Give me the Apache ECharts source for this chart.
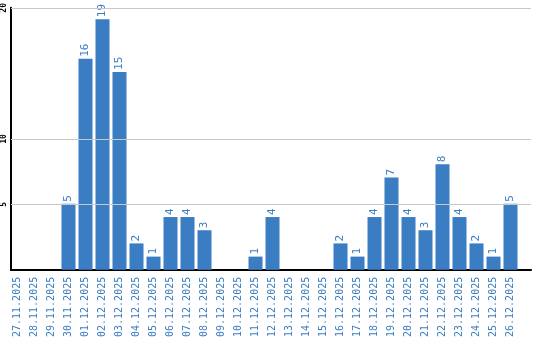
<!DOCTYPE html>
<html>
<head>
<meta charset="utf-8">
<script src="https://cdn.jsdelivr.net/npm/echarts@6/dist/echarts.min.js"></script>
<style>html,body{margin:0;padding:0;background:#fff}#c{width:540px;height:340px}</style>
</head>
<body>
<div id="c"></div>
<script>
const categories = ['27.11.2025','28.11.2025','29.11.2025','30.11.2025','01.12.2025','02.12.2025','03.12.2025','04.12.2025','05.12.2025','06.12.2025','07.12.2025','08.12.2025','09.12.2025','10.12.2025','11.12.2025','12.12.2025','13.12.2025','14.12.2025','15.12.2025','16.12.2025','17.12.2025','18.12.2025','19.12.2025','20.12.2025','21.12.2025','22.12.2025','23.12.2025','24.12.2025','25.12.2025','26.12.2025'];
const values = [0,0,0,5,16,19,15,2,1,4,4,3,0,0,1,4,0,0,0,2,1,4,7,4,3,8,4,2,1,5];
const yTickLabels = [5,10,20];
const yMax = 20;

const chart = echarts.init(document.getElementById('c'), null, {renderer:'canvas'});
const blue = '#3b7dc2';
chart.setOption({
  animation:false,
  grid:[
    {left:11,right:9,top:6,bottom:70},
    {left:9,right:21,top:6,bottom:70}
  ],
  xAxis:[
    {gridIndex:0,type:'value',min:0,max:1,axisLine:{show:true,onZero:false,lineStyle:{color:'#000',width:2}},axisTick:{show:false},axisLabel:{show:false},splitLine:{show:false}},
    {gridIndex:1,type:'category',data:categories,axisLine:{show:false},axisTick:{show:false},splitLine:{show:false},
     axisLabel:{interval:0,rotate:90,margin:7,color:blue,fontFamily:'DejaVu Sans Mono',fontSize:10}}
  ],
  yAxis:[
    {gridIndex:0,type:'value',min:0,max:yMax,interval:5,
     axisLine:{show:true,lineStyle:{color:'#000',width:2}},axisTick:{show:false},splitLine:{show:false},
     axisLabel:{rotate:90,margin:3,color:'#000',fontFamily:'DejaVu Sans Mono',fontWeight:'bold',fontSize:8,
       formatter:v=>yTickLabels.indexOf(v)>=0?String(v):''}},
    {gridIndex:1,type:'value',min:0,max:yMax,show:false,splitLine:{show:false}}
  ],
  series:[
    {type:'line',xAxisIndex:0,yAxisIndex:0,data:[[0,0]],showSymbol:false,z:1,silent:true,
     markLine:{silent:true,symbol:['none','none'],label:{show:false},
       lineStyle:{color:'#c8c8c8',type:'solid',width:1},
       data:yTickLabels.map(v=>({yAxis:v}))}},
    {type:'bar',xAxisIndex:1,yAxisIndex:1,data:values,barWidth:14,z:3,
     itemStyle:{color:blue},
     label:{show:true,position:'top',rotate:90,align:'left',verticalAlign:'middle',distance:2,
       color:blue,fontFamily:'DejaVu Sans Mono',fontSize:11,
       formatter:p=>p.value?String(p.value):''}}
  ]
});
</script>
</body>
</html>
